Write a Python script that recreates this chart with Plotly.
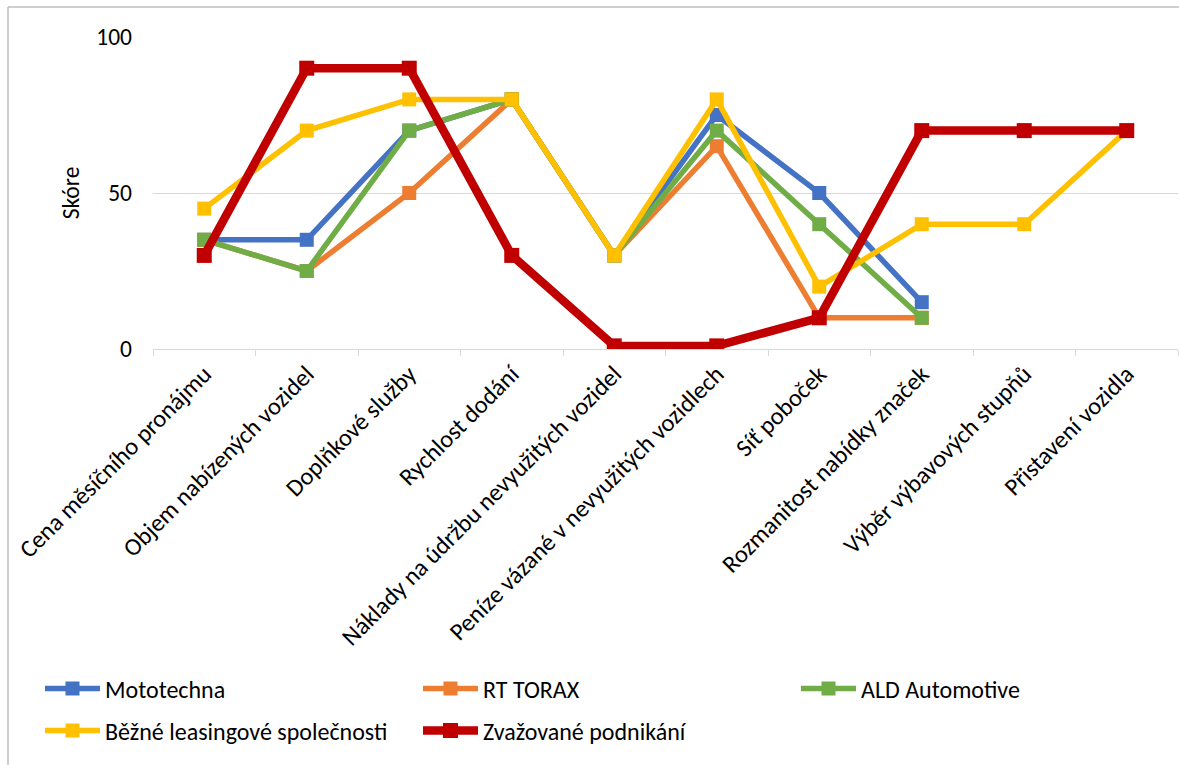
import plotly.graph_objects as go

categories = [
    "Cena měsíčního pronájmu",
    "Objem nabízených vozidel",
    "Doplňkové služby",
    "Rychlost dodání",
    "Náklady na údržbu nevyužitých vozidel",
    "Peníze vázané v nevyužitých vozidlech",
    "Síť poboček",
    "Rozmanitost nabídky značek",
    "Výběr výbavových stupňů",
    "Přistavení vozidla",
]

mototechna = [35, 35, 70, 80, 30, 75, 50, 15, None, None]
rt_torax = [35, 25, 50, 80, 30, 65, 10, 10, None, None]
ald_automotive = [35, 25, 70, 80, 30, 70, 40, 10, None, None]
bezne_leasing = [45, 70, 80, 80, 30, 80, 20, 40, 40, 70]
zvazovane = [30, 90, 90, 30, 1, 1, 10, 70, 70, 70]

series = [
    ("Mototechna", mototechna, "#4472C4", 5.5, 14, "legend"),
    ("RT TORAX", rt_torax, "#ED7D31", 5.5, 14, "legend"),
    ("ALD Automotive", ald_automotive, "#70AD47", 5.5, 14, "legend"),
    ("Běžné leasingové společnosti", bezne_leasing, "#FFC000", 5.5, 14, "legend2"),
    ("Zvažované podnikání", zvazovane, "#C00000", 8.5, 15, "legend2"),
]

W, H = 1179, 765
L, R, T, B = 153, 1, 37, 416
pw, ph = W - L - R, H - T - B

FONT = "Carlito, Calibri, Lato, sans-serif"
FS = 23.5
FS_TICK = 24.5
FS_LEG = 24

fig = go.Figure()
for name, vals, color, lw, ms, lg in series:
    fig.add_trace(go.Scatter(
        x=categories, y=vals, name=name, mode="lines+markers",
        line=dict(color=color, width=lw),
        marker=dict(symbol="square", size=ms, color=color),
        connectgaps=False, legend=lg,
    ))

def px_x(p):
    return (p - L) / pw

def px_y(p):
    return (H - B - p) / ph

leg_common = dict(
    orientation="h", xanchor="left", yanchor="middle",
    entrywidth=308, entrywidthmode="pixels",
    font=dict(family=FONT, size=FS_LEG, color="#000000"),
    itemwidth=55, bgcolor="rgba(0,0,0,0)",
)

fig.update_layout(
    width=W, height=H,
    margin=dict(l=L, r=R, t=T, b=B, pad=0),
    paper_bgcolor="white", plot_bgcolor="white",
    font=dict(family=FONT, size=FS, color="#000000"),
    showlegend=True,
    legend=dict(x=px_x(40), y=px_y(689), **leg_common),
    legend2=dict(x=px_x(40), y=px_y(731), **leg_common),
    xaxis=dict(
        type="category", tickangle=-45, showgrid=False,
        showline=True, linecolor="#D9D9D9", linewidth=1,
        ticks="outside", tickson="boundaries", ticklen=6, tickcolor="#D9D9D9",
        tickfont=dict(family=FONT, size=FS_TICK, color="#000000"),
        range=[-0.5, 9.5], fixedrange=True,
    ),
    yaxis=dict(
        range=[0, 100], tickvals=[0, 50, 100], showgrid=True,
        gridcolor="#D9D9D9", gridwidth=1, zeroline=False, showline=False,
        ticks="", ticklabelstandoff=20,
        tickfont=dict(family=FONT, size=FS, color="#000000"),
        title=dict(text="Skóre", font=dict(family=FONT, size=FS, color="#000000"), standoff=10),
    ),
    shapes=[
        dict(type="line", xref="paper", yref="paper", x0=px_x(8), x1=px_x(1179), y0=px_y(7), y1=px_y(7),
             line=dict(color="#BFBFBF", width=1.5)),
        dict(type="line", xref="paper", yref="paper", x0=px_x(8), x1=px_x(8), y0=px_y(7), y1=px_y(765),
             line=dict(color="#BFBFBF", width=1.5)),
    ],
)

fig.write_html("out.html")
